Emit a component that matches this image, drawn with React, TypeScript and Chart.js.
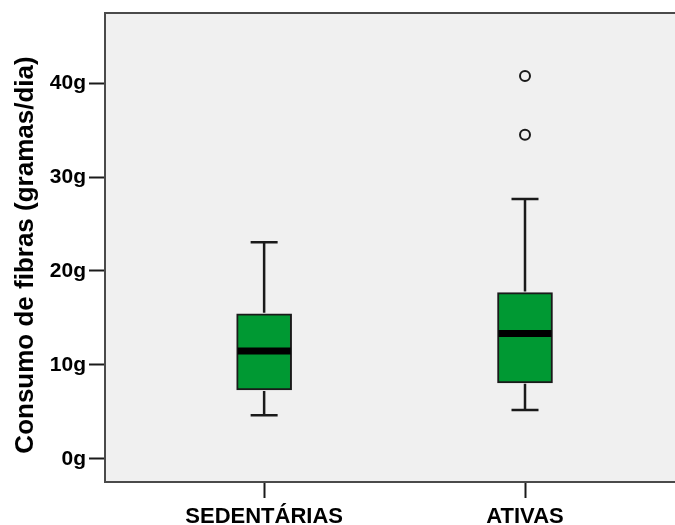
import React, { useEffect, useRef } from "react";
import { Chart, registerables } from "chart.js";

Chart.register(...registerables);

const categories = ["SEDENTÁRIAS", "ATIVAS"];
const whiskerLow = [4.65, 5.2];
const q1 = [7.35, 8.1];
const median = [11.5, 13.35];
const q3 = [15.45, 17.7];
const whiskerHigh = [23.05, 27.65];
const outliers: number[][] = [[], [34.5, 40.75]];
const yTicks = [0, 10, 20, 30, 40];
const yTitle = "Consumo de fibras (gramas/dia)";

const FONT = "Arial, 'Liberation Sans', Helvetica, sans-serif";
const INK = "#1a1a1a";

const boxPlugin = {
  id: "boxPlugin",
  beforeDraw(chart: any) {
    const { ctx, chartArea } = chart;
    ctx.save();
    ctx.fillStyle = "#F0F0F0";
    ctx.fillRect(chartArea.left, chartArea.top, chartArea.right - chartArea.left, chartArea.bottom - chartArea.top);
    ctx.restore();
  },
  afterDatasetsDraw(chart: any) {
    const { ctx } = chart;
    const xs = chart.scales.x;
    const ys = chart.scales.y;
    const meta = chart.getDatasetMeta(0);
    ctx.save();
    categories.forEach((_, i) => {
      const x = xs.getPixelForValue(i + 1);
      const bar = meta.data[i];
      const half = bar ? bar.width / 2 : 27;
      const capHalf = 13.5;
      const yLo = ys.getPixelForValue(whiskerLow[i]);
      const yQ1 = ys.getPixelForValue(q1[i]);
      const yQ3 = ys.getPixelForValue(q3[i]);
      const yHi = ys.getPixelForValue(whiskerHigh[i]);
      const yMed = ys.getPixelForValue(median[i]);
      ctx.strokeStyle = INK;
      ctx.lineWidth = 2.5;
      ctx.beginPath();
      ctx.moveTo(x, yQ1 + 1);
      ctx.lineTo(x, yLo);
      ctx.moveTo(x, yQ3 - 1);
      ctx.lineTo(x, yHi);
      ctx.moveTo(x - capHalf, yLo);
      ctx.lineTo(x + capHalf, yLo);
      ctx.moveTo(x - capHalf, yHi);
      ctx.lineTo(x + capHalf, yHi);
      ctx.stroke();
      ctx.strokeStyle = "#000";
      ctx.lineWidth = 7;
      ctx.beginPath();
      ctx.moveTo(x - half + 1, yMed);
      ctx.lineTo(x + half - 1, yMed);
      ctx.stroke();
    });
    ctx.restore();
  },
  afterDraw(chart: any) {
    const { ctx, chartArea } = chart;
    ctx.save();
    ctx.strokeStyle = "#4a4a4a";
    ctx.lineWidth = 2;
    ctx.strokeRect(chartArea.left, chartArea.top, chartArea.right - chartArea.left + 4, chartArea.bottom - chartArea.top);
    ctx.translate(26, 255);
    ctx.rotate(-Math.PI / 2);
    ctx.fillStyle = "#000";
    ctx.font = `bold 26px ${FONT}`;
    ctx.textAlign = "center";
    ctx.textBaseline = "middle";
    ctx.fillText(yTitle, 0, 0);
    ctx.restore();
  },
};

export default function App() {
  const ref = useRef<HTMLCanvasElement>(null);
  useEffect(() => {
    document.body.style.margin = "0";
    const boxData = categories.map((_, i) => ({ x: i + 1, y: [q1[i], q3[i]] }));
    const outlierData: { x: number; y: number }[] = [];
    outliers.forEach((arr, i) => arr.forEach((v) => outlierData.push({ x: i + 1, y: v })));
    const chart = new Chart(ref.current!, {
      type: "bar",
      data: {
        datasets: [
          {
            type: "bar",
            data: boxData as any,
            backgroundColor: "#009933",
            borderColor: INK,
            borderWidth: 2,
            borderSkipped: false,
            barThickness: 55,
            order: 2,
          } as any,
          {
            type: "scatter",
            data: outlierData,
            pointRadius: 5,
            pointHoverRadius: 5,
            pointBackgroundColor: "rgba(0,0,0,0)",
            pointBorderColor: INK,
            pointBorderWidth: 2,
            order: 1,
          } as any,
        ],
      },
      options: {
        animation: false,
        responsive: false,
        maintainAspectRatio: false,
        layout: { autoPadding: false, padding: { top: 13, right: 0, left: 0, bottom: 0 } },
        plugins: { legend: { display: false }, tooltip: { enabled: false }, title: { display: false } },
        scales: {
          x: {
            type: "linear",
            offset: false,
            min: 0.39,
            max: 2.575,
            afterBuildTicks: (s: any) => {
              s.ticks = categories.map((_, i) => ({ value: i + 1 }));
            },
            afterFit: (s: any) => {
              s.height = 43;
              s.paddingLeft = 0;
              s.paddingRight = 0;
            },
            ticks: {
              autoSkip: false,
              maxRotation: 0,
              padding: 6,
              color: "#000",
              font: { family: FONT, size: 22, weight: "bold" },
              callback: (v: any) => categories[Math.round(v) - 1] ?? "",
            },
            grid: { offset: false, drawOnChartArea: false, drawTicks: true, tickLength: 16, tickWidth: 2, tickColor: INK, color: INK },
            border: { display: false },
          },
          y: {
            type: "linear",
            min: -2.45,
            max: 47.45,
            afterBuildTicks: (s: any) => {
              s.ticks = yTicks.map((v) => ({ value: v }));
            },
            afterFit: (s: any) => {
              s.width = 105;
              s.paddingTop = 0;
              s.paddingBottom = 0;
            },
            ticks: {
              padding: 3,
              color: "#000",
              font: { family: FONT, size: 21, weight: "bold" },
              callback: (v: any) => `${v}g`,
            },
            grid: { drawOnChartArea: false, drawTicks: true, tickLength: 16, tickWidth: 2, tickColor: INK, color: INK },
            border: { display: false },
          },
        },
      } as any,
      plugins: [boxPlugin],
    });
    return () => chart.destroy();
  }, []);
  return <canvas ref={ref} width={675} height={525} style={{ display: "block" }} />;
}
